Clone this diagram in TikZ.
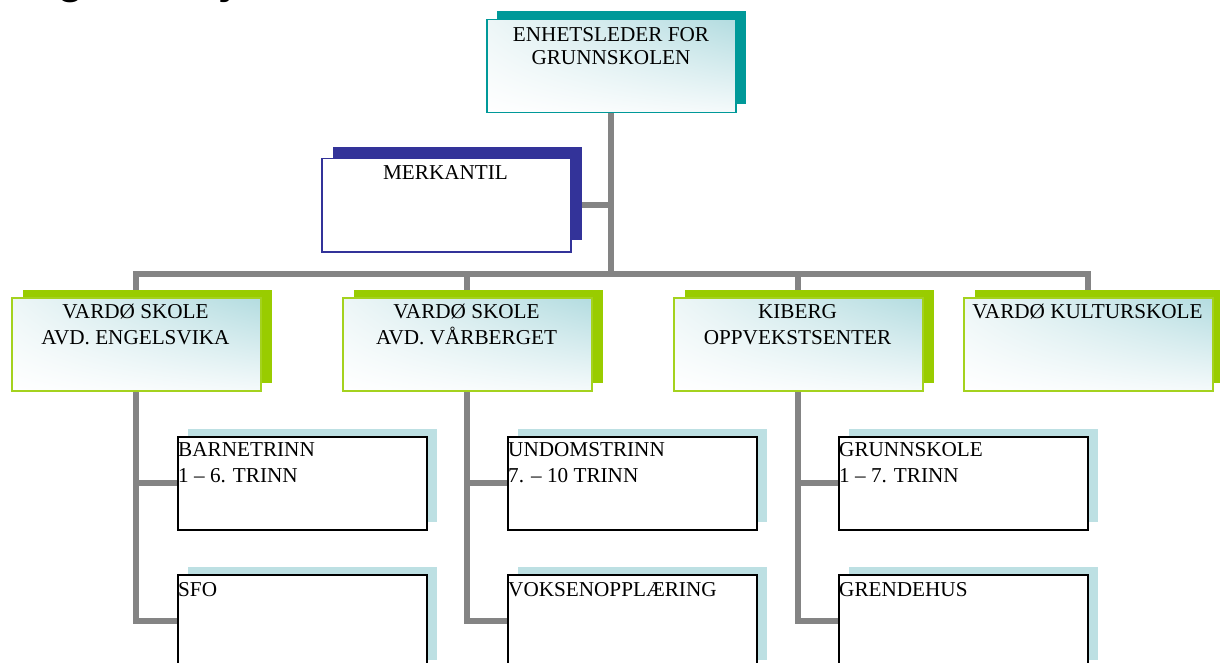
\documentclass[tikz,border=0pt]{standalone}
\usepackage{fontspec}
\setmainfont{Liberation Serif}
\newfontfamily\titlefont{Liberation Sans}
\usetikzlibrary{shadows,shadings}
\definecolor{tealc}{HTML}{009999}
\definecolor{navyc}{HTML}{333399}
\definecolor{greenc}{HTML}{99CC00}
\definecolor{greenb}{HTML}{A4D21E}
\definecolor{paleblue}{HTML}{BDE0E3}
\definecolor{gradblue}{HTML}{B3DCE0}
\definecolor{gradmid}{HTML}{EDF6F7}
\definecolor{gradlow}{HTML}{F5FAFB}
\definecolor{linec}{HTML}{848484}
\pgfdeclarelayer{bg}
\pgfsetlayers{bg,main}
\begin{document}
\begin{tikzpicture}[x=1pt,y=-1pt,
  box/.style={rectangle, inner sep=0pt, minimum width=249pt, minimum height=93pt, anchor=north west, line width=1.5pt},
  grad/.style={shade, upper right=gradblue, upper left=gradmid, lower left=white, lower right=gradlow},
  topbox/.style={box, grad, draw=tealc, general shadow={fill=tealc, shadow xshift=10.5pt, shadow yshift=8.5pt}},
  merkbox/.style={box, fill=white, draw=navyc, general shadow={fill=navyc, shadow xshift=11pt, shadow yshift=11.5pt}},
  unitbox/.style={box, grad, draw=greenb, general shadow={fill=greenc, shadow xshift=11pt, shadow yshift=8pt}},
  subbox/.style={box, fill=white, draw=black, general shadow={fill=paleblue, shadow xshift=10.5pt, shadow yshift=8pt}},
  lbl/.style={inner sep=0pt, font=\fontsize{21.2}{26}\selectfont},
  clbl/.style={lbl, anchor=base},
  llbl/.style={lbl, anchor=base west},
  conn/.style={draw=linec, line width=6pt, line join=miter, line cap=butt},
]
\useasboundingbox (0,0) rectangle (1220,663);

% title (cut off at the top, as in the reference)
\node[anchor=base west, inner sep=0pt, font=\titlefont\fontsize{44}{50}\bfseries\selectfont] (title) at (6,-6.5) {Organisasjonskart};

% boxes
\node[topbox] (top) at (486,19) {};
\node[merkbox] (merk) at (321,158) {};
\node[unitbox] (g1) at (11,297) {};
\node[unitbox] (g2) at (342,297) {};
\node[unitbox] (g3) at (673,297) {};
\node[unitbox] (g4) at (963,297) {};
\node[subbox] (c1a) at (177,436) {};
\node[subbox] (c1b) at (177,574) {};
\node[subbox] (c2a) at (507,436) {};
\node[subbox] (c2b) at (507,574) {};
\node[subbox] (c3a) at (838,436) {};
\node[subbox] (c3b) at (838,574) {};

% texts
\node[clbl] (ttop1) at (611,41.7) {ENHETSLEDER FOR};
\node[clbl] (ttop2) at (611,64.7) {GRUNNSKOLEN};
\node[clbl] (tmerk) at (445.5,180) {MERKANTIL};
\node[clbl] (tg1a) at (135.5,318) {VARDØ SKOLE};
\node[clbl] (tg1b) at (135.5,344) {AVD. ENGELSVIKA};
\node[clbl] (tg2a) at (466.5,318) {VARDØ SKOLE};
\node[clbl] (tg2b) at (466.5,344) {AVD. VÅRBERGET};
\node[clbl] (tg3a) at (797.5,318) {KIBERG};
\node[clbl] (tg3b) at (797.5,344) {OPPVEKSTSENTER};
\node[clbl] (tg4a) at (1087.5,318) {VARDØ KULTURSKOLE};
\node[llbl] (tc1a1) at (178,456.5) {BARNETRINN};
\node[llbl] (tc1a2) at (178,482.5) {1 – 6. TRINN};
\node[llbl] (tc1b) at (178,596) {SFO};
\node[llbl] (tc2a1) at (508,456.5) {UNDOMSTRINN};
\node[llbl] (tc2a2) at (508,482.5) {7. – 10 TRINN};
\node[llbl] (tc2b) at (508,596) {VOKSENOPPLÆRING};
\node[llbl] (tc3a1) at (839,456.5) {GRUNNSKOLE};
\node[llbl] (tc3a2) at (839,482.5) {1 – 7. TRINN};
\node[llbl] (tc3b) at (839,596) {GRENDEHUS};

\coordinate (bus) at (611,274);

\begin{pgfonlayer}{bg}
\draw[conn] (top.south) -- (top.south |- bus);
\draw[conn] (merk.east) -- (merk.east -| top.south);
\draw[conn] (g1.north) -- (g1.north |- bus) -- (g4.north |- bus) -- (g4.north);
\draw[conn] (g2.north |- bus) -- (g2.north);
\draw[conn] (g3.north |- bus) -- (g3.north);
\draw[conn] (g1.south) -- (g1.south |- c1b.west) -- (c1b.west);
\draw[conn] (g1.south |- c1a.west) -- (c1a.west);
\draw[conn] (g2.south) -- (g2.south |- c2b.west) -- (c2b.west);
\draw[conn] (g2.south |- c2a.west) -- (c2a.west);
\draw[conn] (g3.south) -- (g3.south |- c3b.west) -- (c3b.west);
\draw[conn] (g3.south |- c3a.west) -- (c3a.west);
\end{pgfonlayer}
\end{tikzpicture}
\end{document}
